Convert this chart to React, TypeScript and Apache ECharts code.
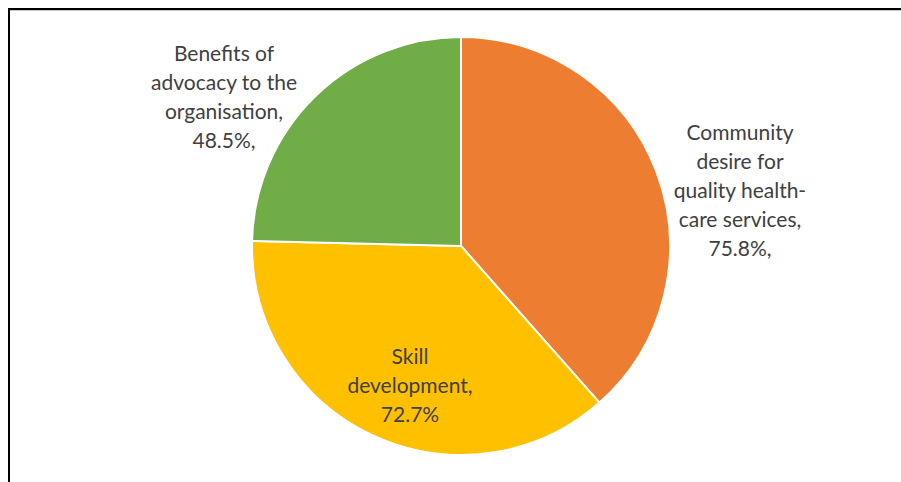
import React, { useEffect, useRef } from "react";
import * as echarts from "echarts";

const categories = [
  "Community\ndesire for\nquality health-\ncare services",
  "Skill\ndevelopment",
  "Benefits of\nadvocacy to the\norganisation",
];
const values = [75.8, 72.7, 48.5];
const labelSuffix = ["%,", "%", "%,"];
const colors = ["#ED7D31", "#FFC000", "#70AD47"];

export default function App() {
  const ref = useRef<HTMLDivElement>(null);
  useEffect(() => {
    if (!ref.current) return;
    const chart = echarts.init(ref.current, undefined, { renderer: "svg" });
    const labelPos = [
      [740, 189],
      [410, 384],
      [224, 96],
    ];
    chart.setOption({
      animation: false,
      backgroundColor: "#ffffff",
      graphic: [
        { type: "line", shape: { x1: 8, y1: 9, x2: 901, y2: 9 }, style: { stroke: "#000", lineWidth: 2 } },
        { type: "line", shape: { x1: 10, y1: 10.5, x2: 901, y2: 10.5 }, style: { stroke: "#c8c8c8", lineWidth: 1 } },
        { type: "line", shape: { x1: 9, y1: 8, x2: 9, y2: 482 }, style: { stroke: "#000", lineWidth: 2 } },
      ],
      series: [
        {
          type: "pie",
          center: [461, 246],
          radius: 209,
          startAngle: 90,
          clockwise: true,
          data: categories.map((c, i) => ({
            name: c,
            value: values[i],
            itemStyle: { color: colors[i] },
          })),
          itemStyle: { borderColor: "#ffffff", borderWidth: 2 },
          label: {
            show: true,
            formatter: (p: any) => `${p.name},\n${p.value}${labelSuffix[p.dataIndex]}`,
            fontFamily: "Lato",
            fontSize: 21,
            lineHeight: 29,
            color: "#404040",
            align: "center",
          },
          labelLine: { show: false },
          labelLayout: (p: any) => ({
            x: labelPos[p.dataIndex][0],
            y: labelPos[p.dataIndex][1],
            align: "center",
            verticalAlign: "middle",
          }),
          emphasis: { disabled: true },
        },
      ],
    });
    return () => chart.dispose();
  }, []);
  return (
    <div
      ref={ref}
      style={{ position: "fixed", left: 0, top: 0, width: 901, height: 482 }}
    />
  );
}
